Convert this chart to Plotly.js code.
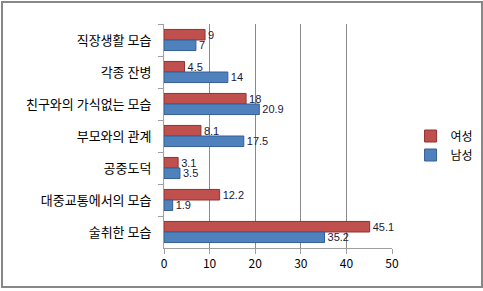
<!DOCTYPE html>
<html>
<head>
<meta charset="utf-8">
<script src="https://cdn.plot.ly/plotly-3.0.1.min.js"></script>
<style>
html,body{margin:0;padding:0;background:#fff;}
#chart{width:483px;height:291px;position:relative;}
#frame{position:absolute;left:1px;top:1px;width:478px;height:283px;border:2px solid #888;box-sizing:content-box;pointer-events:none;}
</style>
</head>
<body>
<div id="chart"></div>
<script>
const categories = ["직장생활 모습", "각종 잔병", "친구와의 가식없는 모습", "부모와의 관계", "공중도덕", "대중교통에서의 모습", "술취한 모습"];
const female = [9, 4.5, 18, 8.1, 3.1, 12.2, 45.1];
const male = [7, 14, 20.9, 17.5, 3.5, 1.9, 35.2];
const seriesNames = ["여성", "남성"];
const xTicks = [0, 10, 20, 30, 40, 50];

const font = "'Noto Sans CJK KR', 'Noto Sans', sans-serif";
const numFont = "'Liberation Sans', Arial, sans-serif";
const traces = [
  {type:'bar', orientation:'h', name:seriesNames[0], y:categories, x:female,
   marker:{color:'#C0504D', line:{color:'#8E3432', width:1}},
   text:female.map(String), textposition:'outside', cliponaxis:false, constraintext:'none',
   textfont:{family:numFont, size:11, color:'#1a1a3a'}},
  {type:'bar', orientation:'h', name:seriesNames[1], y:categories, x:male,
   marker:{color:'#4F81BD', line:{color:'#365F91', width:1}},
   text:male.map(String), textposition:'outside', cliponaxis:false, constraintext:'none',
   textfont:{family:numFont, size:11, color:'#1a1a3a'}}
];
const layout = {
  width:483, height:291,
  margin:{l:164, r:91, t:24, b:43, autoexpand:false},
  paper_bgcolor:'#fff', plot_bgcolor:'#fff',
  barmode:'group', bargap:0.34, bargroupgap:0,
  font:{family:font, size:12, color:'#000'},
  showlegend:true,
  legend:{xref:'container', yref:'container', x:0.85, y:0.5, xanchor:'left', yanchor:'middle',
          font:{family:font, size:12, color:'#000'}, itemwidth:30, tracegroupgap:2, bgcolor:'rgba(0,0,0,0)'},
  xaxis:{range:[0,50], tickvals:xTicks, ticktext:xTicks.map(String), showgrid:true, gridcolor:'#8a8a8a', gridwidth:1,
         zeroline:false, showline:true, linecolor:'#a0a0a0', ticks:'outside', ticklen:5, tickcolor:'#a0a0a0',
         tickfont:{family:font, size:12, color:'#000'}, fixedrange:true},
  yaxis:{type:'category', autorange:'reversed', showline:true, linecolor:'#a0a0a0', ticks:'outside', ticklen:5, tickcolor:'#a0a0a0',
         tickson:'boundaries', showgrid:false, tickfont:{family:font, size:13, color:'#000'}, ticklabelstandoff:9, fixedrange:true}
};
Plotly.newPlot('chart', traces, layout, {displayModeBar:false, staticPlot:true}).then(()=>{
  const f = document.createElement('div'); f.id='frame'; document.getElementById('chart').appendChild(f);
});
</script>
</body>
</html>
